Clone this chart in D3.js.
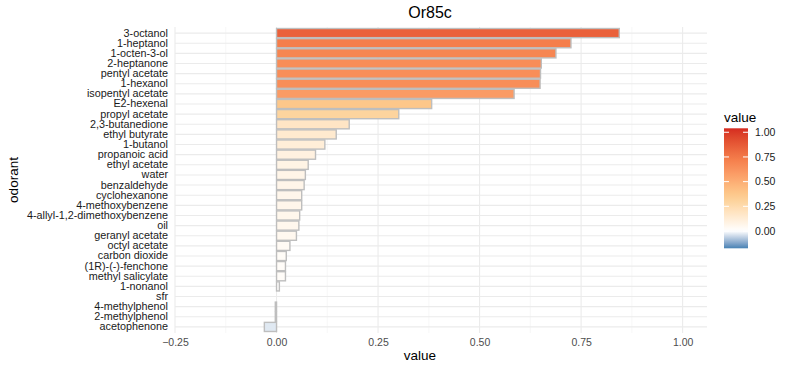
<!DOCTYPE html>
<html>
<head>
<meta charset="utf-8">
<script src="https://cdn.jsdelivr.net/npm/d3@7"></script>
<style>
  body { margin: 0; background: #fff; }
  svg text { font-family: "Liberation Sans", Arial, sans-serif; }
</style>
</head>
<body>
<svg id="chart" width="800" height="370"></svg>
<script>
var odorants = ['3-octanol', '1-heptanol', '1-octen-3-ol', '2-heptanone', 'pentyl acetate', '1-hexanol',
	'isopentyl acetate', 'E2-hexenal', 'propyl acetate', '2,3-butanedione', 'ethyl butyrate', '1-butanol',
	'propanoic acid', 'ethyl acetate', 'water', 'benzaldehyde', 'cyclohexanone', '4-methoxybenzene',
	'4-allyl-1,2-dimethoxybenzene', 'oil', 'geranyl acetate', 'octyl acetate', 'carbon dioxide',
	'(1R)-(-)-fenchone', 'methyl salicylate', '1-nonanol', 'sfr', '4-methylphenol', '2-methylphenol', 'acetophenone'];
var values = [0.844, 0.725, 0.688, 0.652, 0.650, 0.649,
	0.585, 0.382, 0.301, 0.179, 0.147, 0.119,
	0.096, 0.078, 0.071, 0.068, 0.062, 0.062,
	0.057, 0.055, 0.049, 0.033, 0.024,
	0.022, 0.022, 0.007, 0, -0.003, -0.003, -0.030];
var xTicks = [-0.25, 0, 0.25, 0.5, 0.75, 1];
var xMinor = [-0.125, 0.125, 0.375, 0.625, 0.875];
var legendTicks = [0, 0.25, 0.5, 0.75, 1];

var svg = d3.select('#chart');
var panel = {left: 175, right: 707, top: 27, bottom: 333};

var x = d3.scaleLinear().domain([-0.25, 1.06]).range([panel.left, panel.right]);
var y = d3.scaleBand().domain(odorants).range([panel.top, panel.bottom])
	.paddingInner(0.1).paddingOuter(0.15);

var fill = d3.scaleLinear()
	.domain([-0.175, 0, 0.3, 0.38, 0.6, 0.72, 0.85, 1.04])
	.range(['#4682b4', '#ffffff', '#fdd49e', '#fdc78a', '#fa9862', '#f57f4c', '#e9603a', '#d52a20'])
	.interpolate(d3.interpolateLab);

// grid
var grid = svg.append('g');
grid.selectAll('line.minor').data(xMinor).enter().append('line')
	.attr('x1', function(d) { return x(d); }).attr('x2', function(d) { return x(d); })
	.attr('y1', panel.top).attr('y2', panel.bottom)
	.attr('stroke', '#f2f2f2').attr('stroke-width', 0.6);
grid.selectAll('line.vmajor').data(xTicks).enter().append('line')
	.attr('x1', function(d) { return x(d); }).attr('x2', function(d) { return x(d); })
	.attr('y1', panel.top).attr('y2', panel.bottom)
	.attr('stroke', '#ebebeb').attr('stroke-width', 1.1);
grid.selectAll('line.hmajor').data(odorants).enter().append('line')
	.attr('x1', panel.left).attr('x2', panel.right)
	.attr('y1', function(d) { return y(d) + y.bandwidth()/2; })
	.attr('y2', function(d) { return y(d) + y.bandwidth()/2; })
	.attr('stroke', '#ebebeb').attr('stroke-width', 1.1);

// bars
svg.append('g').selectAll('rect').data(odorants).enter().append('rect')
	.attr('x', function(d, i) { return x(Math.min(0, values[i])); })
	.attr('width', function(d, i) { return Math.abs(x(values[i]) - x(0)); })
	.attr('y', function(d) { return y(d); })
	.attr('height', y.bandwidth())
	.attr('fill', function(d, i) { return fill(values[i]); })
	.attr('stroke', '#bebebe')
	.attr('stroke-width', 1.4);

// axes
var xAxis = svg.append('g').attr('transform', 'translate(0,' + panel.bottom + ')')
	.call(d3.axisBottom(x).tickValues(xTicks).tickFormat(d3.format('.2f')).tickSize(0).tickPadding(6));
xAxis.select('.domain').remove();
xAxis.selectAll('text').attr('font-size', '10.5px').attr('fill', '#4d4d4d').attr('font-family', 'Liberation Sans, Arial, sans-serif');

var yAxis = svg.append('g').attr('transform', 'translate(' + panel.left + ',0)')
	.call(d3.axisLeft(y).tickSize(0).tickPadding(7));
yAxis.select('.domain').remove();
yAxis.selectAll('text').attr('font-size', '10.8px').attr('fill', '#1a1a1a').attr('font-family', 'Liberation Sans, Arial, sans-serif');

// titles
svg.append('text').attr('x', 430).attr('y', 18).attr('text-anchor', 'middle')
	.attr('font-size', '16px').attr('fill', '#000').text('Or85c');
svg.append('text').attr('x', 420).attr('y', 360).attr('text-anchor', 'middle')
	.attr('font-size', '13.5px').attr('fill', '#000').text('value');
svg.append('text').attr('transform', 'translate(18,180) rotate(-90)').attr('text-anchor', 'middle')
	.attr('font-size', '13.5px').attr('fill', '#000').text('odorant');

// legend
var lg = {x: 724, w: 24, top: 128.3, bottom: 248.3};
var ly = d3.scaleLinear().domain([-0.175, 1.04]).range([lg.bottom, lg.top]);
var grad = svg.append('defs').append('linearGradient').attr('id', 'lgrad')
	.attr('x1', 0).attr('y1', 1).attr('x2', 0).attr('y2', 0);
d3.range(0, 1.0001, 0.02).forEach(function(t) {
	var v = ly.domain()[0] + t*(ly.domain()[1] - ly.domain()[0]);
	grad.append('stop').attr('offset', t).attr('stop-color', fill(v));
});
svg.append('rect').attr('x', lg.x).attr('y', lg.top).attr('width', lg.w)
	.attr('height', lg.bottom - lg.top).attr('fill', 'url(#lgrad)');
var lt = svg.append('g');
legendTicks.forEach(function(t) {
	lt.append('line').attr('x1', lg.x).attr('x2', lg.x + 5).attr('y1', ly(t)).attr('y2', ly(t))
		.attr('stroke', '#fff').attr('stroke-width', 1);
	lt.append('line').attr('x1', lg.x + lg.w - 5).attr('x2', lg.x + lg.w).attr('y1', ly(t)).attr('y2', ly(t))
		.attr('stroke', '#fff').attr('stroke-width', 1);
	lt.append('text').attr('x', lg.x + lg.w + 7).attr('y', ly(t)).attr('dy', '0.35em')
		.attr('font-size', '10.5px').attr('fill', '#1a1a1a').text(d3.format('.2f')(t));
});
svg.append('text').attr('x', lg.x).attr('y', 122).attr('font-size', '13.5px').attr('fill', '#000').text('value');
</script>
</body>
</html>
